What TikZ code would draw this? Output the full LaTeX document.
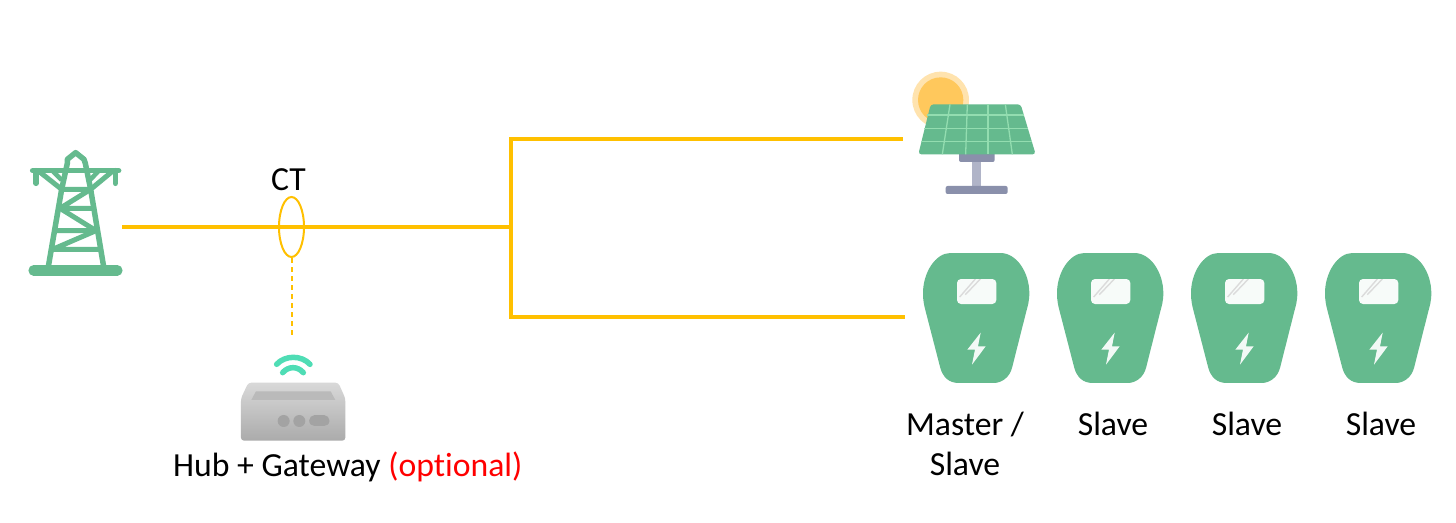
\documentclass[tikz,border=0pt]{standalone}
\usepackage{fontspec}
\setmainfont[Ligatures=NoCommon]{Carlito}
\usetikzlibrary{shapes.geometric}
\definecolor{wire}{HTML}{FFC000}
\definecolor{iconGreen}{HTML}{65BA8E}
\definecolor{wifi}{HTML}{4FDDB5}
\definecolor{sunIn}{HTML}{FFC85C}
\definecolor{sunOut}{HTML}{FFE3AE}
\definecolor{gridL}{HTML}{93DDB0}
\definecolor{standD}{HTML}{8A90AB}
\definecolor{standL}{HTML}{B0B4C8}
\tikzset{
  x=1pt,y=-1pt,
  wireline/.style={draw=wire,line width=3.5pt},
  label/.style={font=\fontsize{33.7}{40}\selectfont,inner sep=0pt,anchor=base,text=black},
  twr/.style={draw=iconGreen,line width=5.5pt,line join=round},
  chargerpic/.pic={
    \begin{scope}[shift={(-22.67,-13.33)},x=0.3333pt,y=-0.3333pt]
    \fill[iconGreen] (150,40) -- (300,40) .. controls (350,40) and (387,100) .. (387,160)
      .. controls (387,185) and (382,200) .. (378,215) -- (335,385)
      .. controls (328,412) and (305,430) .. (280,430) -- (175,430)
      .. controls (145,430) and (128,412) .. (120,385) -- (76,215)
      .. controls (72,200) and (68,185) .. (68,160)
      .. controls (68,100) and (105,40) .. (150,40) -- cycle;
    \fill[white,opacity=.95,rounded corners=4pt] (170,118) rectangle (288,193);
    \begin{scope}
      \clip[rounded corners=4pt] (170,118) rectangle (288,193);
      \draw[black!14,line width=1.4pt] (178,172) -- (225,118);
      \draw[black!14,line width=1.4pt] (195,165) -- (240,118);
    \end{scope}
    \fill[white,opacity=.92] (241,279) -- (201,330) -- (224,330) -- (215,375) -- (256,320) -- (233,320) -- cycle;
    \end{scope}
  }
}
\begin{document}
\begin{tikzpicture}
\useasboundingbox (0,0) rectangle (1456,522);
\fill[white] (0,0) rectangle (1456,522);

% named points for the connectors
\coordinate (gridOut) at (122,227);
\coordinate (junction) at (511,227);
\coordinate (pvIn) at (903,139);
\coordinate (evIn) at (905,317);
\coordinate (hubTop) at (291.5,338);

% wires
\draw[wireline] (gridOut) -- (junction);
\draw[wireline,line cap=rect] (junction |- pvIn) -- (junction |- evIn);
\draw[wireline] (junction |- pvIn) -- (pvIn);
\draw[wireline] (junction |- evIn) -- (evIn);
\node[ellipse,draw=wire,line width=2pt,minimum width=25pt,minimum height=60pt,inner sep=0pt] (ct) at (291.5,227) {};
\draw[draw=wire,line width=2pt,dash pattern=on 5pt off 4pt] (ct.south) -- (hubTop);

% tower
\begin{scope}[shift={(10,130)},x=0.3333pt,y=-0.3333pt]
  \draw[iconGreen,line width=10.5pt,line cap=round] (71,421) -- (322,421);
  \draw[iconGreen,line width=5.5pt,line cap=round] (68,122) -- (326,122);
  \draw[iconGreen,line width=5.5pt,line cap=round] (78,122) -- (78,160);
  \draw[iconGreen,line width=5.5pt,line cap=round] (316,122) -- (316,160);
  \draw[twr] (115,410) -- (155,178) -- (172,100) -- (172,88) -- (197,68) -- (222,88) -- (226,100) -- (242,178) -- (281,410);
  \draw[twr,line width=5pt] (88,125) -- (155,178) -- (242,178) -- (306,125);
  \draw[twr,line width=4.5pt] (130,125) -- (155,150);
  \draw[twr,line width=4.5pt] (264,125) -- (240,150);
  \draw[twr,line width=5pt] (242,178) -- (150,235) -- (250,235);
  \draw[twr,line width=5pt] (150,235) -- (258,302) -- (132,302);
  \draw[twr,line width=5pt] (258,302) -- (128,358) -- (268,358);
\end{scope}

% hub
\begin{scope}[shift={(160,330)},x=0.3333pt,y=-0.3333pt]
  \draw[wifi,line width=5.5pt,line cap=round] (350,103) .. controls (375,75) and (425,75) .. (450,103);
  \draw[wifi,line width=5.5pt,line cap=round] (368,128) .. controls (385,108) and (413,108) .. (430,128);
  \shade[top color=black!15,bottom color=black!33,rounded corners=3pt]
    (265,158) -- (535,158) -- (556,205) -- (556,332) -- (243,332) -- (243,205) -- cycle;
  \fill[black!27] (288,184) -- (512,184) -- (526,210) -- (274,210) -- cycle;
  \fill[black!36] (371,273) circle[radius=18];
  \fill[black!36] (418,273) circle[radius=18];
  \draw[black!36,line width=11pt,line cap=round] (464,273) -- (492,273);
\end{scope}

% solar panel
\begin{scope}[shift={(890,60)},x=0.3333pt,y=-0.3333pt]
  \fill[sunOut] (152,120) circle[radius=85];
  \fill[sunIn] (152,120) circle[radius=68];
  \fill[standL] (247,300) rectangle (272,380);
  \fill[standD,rounded corners=2pt] (207,275) -- (314,275) -- (314,306) -- (207,306) -- cycle;
  \fill[standD,rounded corners=2pt] (167,378) rectangle (353,402);
  \fill[iconGreen,rounded corners=3pt] (122,133) -- (392,133) -- (437,283) -- (85,283) -- cycle;
  \begin{scope}[gridL,line width=1.3pt]
    \draw (112,165) -- (402,165);
    \draw (102,205) -- (414,205);
    \draw (93,245) -- (425,245);
    \draw (180,133) -- (157,283);
    \draw (232,133) -- (227,283);
    \draw (294,133) -- (294,283);
    \draw (346,133) -- (367,283);
  \end{scope}
\end{scope}

% chargers
\pic (chargerA) at (923,253) {chargerpic};
\pic (chargerB) at (1057,253) {chargerpic};
\pic (chargerC) at (1191,253) {chargerpic};
\pic (chargerD) at (1325,253) {chargerpic};

% labels
\node[label] (ctLabel) at (288.5,190) {CT};
\node[label,anchor=base west] (hubLabel) at (173,476) {Hub + Gateway \textcolor{red}{(optional)}};
\node[label] (masterLabel) at (965,435) {Master /};
\node[label] (masterLabelB) at (965,475) {Slave};
\node[label] (slaveA) at (1113,435) {Slave};
\node[label] (slaveB) at (1247,435) {Slave};
\node[label] (slaveC) at (1381,435) {Slave};
\end{tikzpicture}
\end{document}
